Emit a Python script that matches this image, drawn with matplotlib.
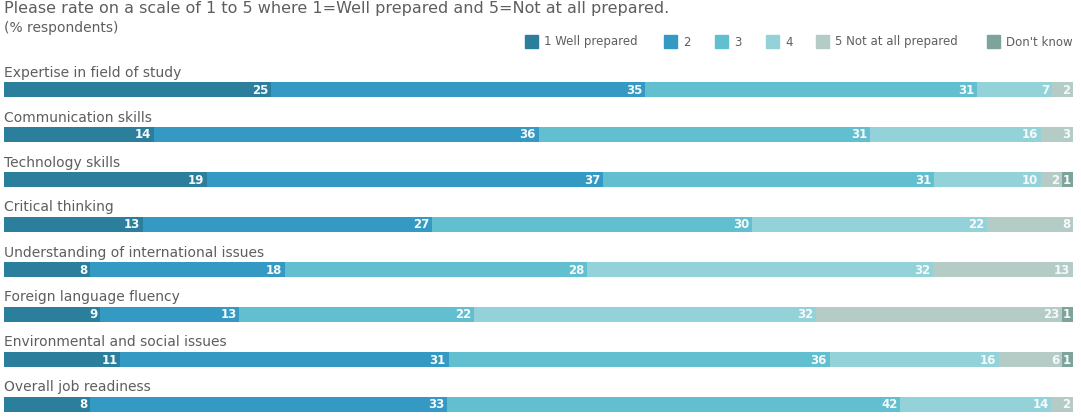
import matplotlib
matplotlib.use("Agg")
import matplotlib.pyplot as plt
from matplotlib.patches import Rectangle

categories = ["Expertise in field of study", "Communication skills", "Technology skills",
              "Critical thinking", "Understanding of international issues",
              "Foreign language fluency", "Environmental and social issues",
              "Overall job readiness"]
series_names = ["1 Well prepared", "2", "3", "4", "5 Not at all prepared", "Don't know"]
well = [25, 14, 19, 13, 8, 9, 11, 8]
two = [35, 36, 37, 27, 18, 13, 31, 33]
three = [31, 31, 31, 30, 28, 22, 36, 42]
four = [7, 16, 10, 22, 32, 32, 16, 14]
notatall = [2, 3, 2, 8, 13, 23, 6, 2]
dontknow = [0, 0, 1, 0, 0, 1, 1, 0]
series = [well, two, three, four, notatall, dontknow]
colors = ["#2b7f9d", "#3499c3", "#62bfd0", "#94d2da", "#b5cbc6", "#7ea39b"]

plt.rcParams["font.family"] = ["DejaVu Sans"]

W, H = 1081, 418
fig = plt.figure(figsize=(W / 100, H / 100), dpi=100)
x0, x1 = 4, 1073
ax = fig.add_axes([x0 / W, 0, (x1 - x0) / W, 1])
ax.set_ylim(H, 0)
ax.set_xlim(0, 100)
ax.axis("off")

totals = [sum(s[i] for s in series) for i in range(len(categories))]
grey = "#5e5e5e"
for i, cat in enumerate(categories):
    yc = 89.5 + 45 * i
    tot = totals[i]
    left = 0.0
    for s, c in zip(series, colors):
        v = s[i] * 100.0 / tot
        if s[i] > 0:
            ax.barh(yc, v, left=left, height=15, color=c, edgecolor="none")
            ax.text(left + v - 0.25, yc + 0.5, str(s[i]), ha="right", va="center",
                    color="#f4fafb", fontsize=8.5, fontweight="bold")
        left += v
    ax.text(0, yc - 17, cat, ha="left", va="center", color=grey, fontsize=10)

fig.text(x0 / W, 1 - 8 / H,
         "Please rate on a scale of 1 to 5 where 1=Well prepared and 5=Not at all prepared.",
         ha="left", va="center", color=grey, fontsize=11.5)
fig.text(x0 / W, 1 - 28 / H, "(% respondents)", ha="left", va="center", color=grey, fontsize=10)

# legend
leg_x = [525, 664, 715, 766, 816, 987]
for lx, name, c in zip(leg_x, series_names, colors):
    fig.patches.append(Rectangle((lx / W, 1 - 48 / H), 13 / W, 13 / H,
                                 transform=fig.transFigure, color=c))
    fig.text((lx + 19) / W, 1 - 42 / H, name, ha="left", va="center",
             color=grey, fontsize=8.5)

fig.savefig("out.png", dpi=100, facecolor="white")
